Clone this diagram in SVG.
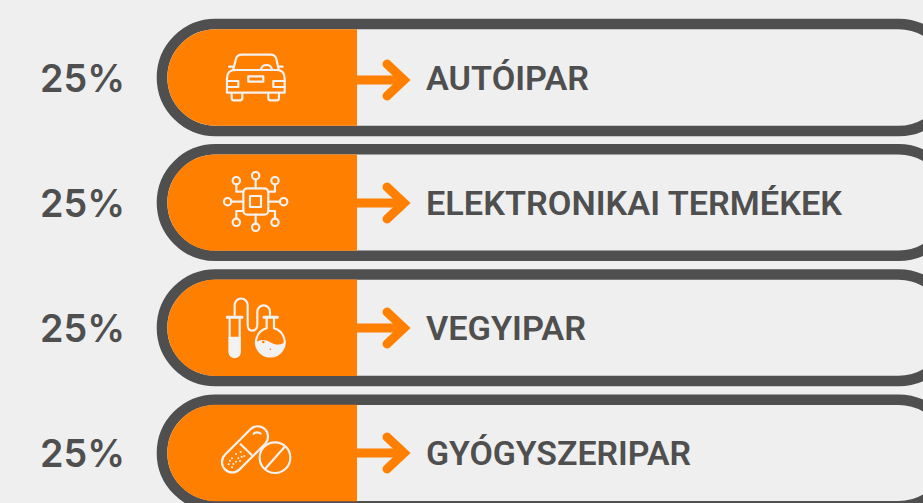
<svg xmlns="http://www.w3.org/2000/svg" width="923" height="503" viewBox="0 0 923 503">
<style>
.pct{font-family:Inter,Roboto,sans-serif;font-size:38.500px;font-weight:600;fill:#4f4f4f}
.lbl{font-family:Roboto,"Noto Sans",sans-serif;font-size:33.500px;font-weight:600;fill:#4f4f4f}
.band{fill:#efefef;stroke:#4f4f4f;stroke-width:10.600}
.or{fill:#ff7f00}
.ic{fill:none;stroke:#f2f2f2;stroke-width:6.500;stroke-linecap:round;stroke-linejoin:round}
.fl{fill:#f2f2f2}
.ar{fill:none;stroke:#ff7f00;stroke-width:9;stroke-linejoin:miter;stroke-linecap:round}
</style>
<defs>
<g id="arrow"><path d="M357 0H403" fill="none" stroke="#ff7f00" stroke-width="9"/><path class="ar" d="M387 -16L404 0L387 16"/></g>
<path id="cap" class="or" d="M357 0H215.500A48.200 48.200 0 0 0 215.500 96.400H357Z"/>
</defs>
<rect width="923" height="503" fill="#efefef"/>
<g id="row1">
<rect class="band" x="162" y="24" width="790" height="107" rx="53.500"/>
<use href="#cap" y="29.300"/>
<g transform="translate(150,10) scale(.3333)" class="ic">
<path d="M250 178L258 146Q262 134 275 134H362Q375 134 379 146L386 178"/>
<path d="M237 170H250M386 170H398"/>
<path d="M231 248V205Q231 180 256 180H380Q404 180 404 205V248Z"/>
<path d="M231 213H265V231H231M404 213H370V231H404"/>
<rect x="295" y="199" width="45" height="16"/>
<path d="M245 250V263Q245 271 252 271H270Q277 271 277 263V250M355 250V263Q355 271 362 271H380Q387 271 387 263V250"/>
<path d="M333 178A17 17 0 0 1 366 178"/>
</g>
<use href="#arrow" y="80"/>
<text class="pct" x="40" y="92" textLength="85" lengthAdjust="spacingAndGlyphs">25%</text>
<text class="lbl" x="426" y="90" textLength="163" lengthAdjust="spacingAndGlyphs">AUTÓIPAR</text>
</g>
<g id="row2">
<rect class="band" x="162" y="149.300" width="790" height="106.500" rx="53.500"/>
<use href="#cap" y="154.400"/>
<g transform="translate(150,140) scale(.3333)" class="ic">
<rect x="280" y="145" width="75" height="79" rx="12"/>
<rect x="300" y="168" width="33" height="33"/>
<circle cx="259" cy="122" r="11"/><circle cx="317" cy="107" r="11"/><circle cx="375" cy="122" r="11"/>
<circle cx="233" cy="185" r="11"/><circle cx="401" cy="185" r="11"/>
<circle cx="259" cy="247" r="11"/><circle cx="317" cy="262" r="11"/><circle cx="375" cy="247" r="11"/>
<path d="M317 118V145M259 133V155H280M375 133V155H355M244 185H280M355 185H390M259 236V213H280M375 236V213H355M317 224V251"/>
</g>
<use href="#arrow" y="203"/>
<text class="pct" x="40" y="217" textLength="85" lengthAdjust="spacingAndGlyphs">25%</text>
<text class="lbl" x="426" y="215" textLength="416" lengthAdjust="spacingAndGlyphs">ELEKTRONIKAI TERMÉKEK</text>
</g>
<g id="row3">
<rect class="band" x="162" y="274.500" width="790" height="106.500" rx="53.500"/>
<use href="#cap" y="279.600"/>
<g transform="translate(150,265) scale(.3333)">
<g class="ic">
<path d="M232 157H276M342 157H382" stroke-width="9"/>
<path d="M239 160V260A15 15 0 0 0 269 260V160"/>
<path d="M254 150V120A19 19 0 0 1 293 120V178Q293 197 306 197Q322 197 322 178V140A19 19 0 0 1 360 140V150"/>
<path d="M350 160V190A43 43 0 1 0 372 190V160"/>
</g>
<path class="fl" d="M236 215H272V262A18 18 0 0 1 236 262Z"/>
<path class="fl" d="M316 232Q340 218 361 232T406 232A45 43 0 0 1 316 232Z"/>
<circle cx="340" cy="231" r="4" fill="#ff7f00"/><circle cx="361" cy="253" r="2.500" fill="#ff7f00"/>
</g>
<use href="#arrow" y="328"/>
<text class="pct" x="40" y="342" textLength="85" lengthAdjust="spacingAndGlyphs">25%</text>
<text class="lbl" x="426" y="340" textLength="160" lengthAdjust="spacingAndGlyphs">VEGYIPAR</text>
</g>
<g id="row4">
<rect class="band" x="162" y="399.700" width="790" height="106.500" rx="53.500"/>
<use href="#cap" y="404.800"/>
<g transform="translate(150,390) scale(.3333)" class="ic">
<rect x="200" y="147" width="170" height="62" rx="31" transform="rotate(-45 285 178)"/>
<path d="M272 163L305 195M311 131Q322 123 332 131"/>
<circle cx="375" cy="203" r="46" fill="#ff7f00"/>
<path d="M347 235L403 172"/>
<g fill="#f2f2f2" stroke="none">
<circle cx="236" cy="223" r="3"/><circle cx="250" cy="222" r="3"/><circle cx="265" cy="205" r="3"/><circle cx="246" cy="205" r="3"/><circle cx="258" cy="192" r="3"/><circle cx="272" cy="186" r="3"/><circle cx="283" cy="198" r="3"/><circle cx="270" cy="213" r="3"/><circle cx="240" cy="212" r="3"/><circle cx="246" cy="232" r="3"/><circle cx="258" cy="215" r="3"/><circle cx="275" cy="200" r="3"/>
</g>
</g>
<use href="#arrow" y="453"/>
<text class="pct" x="40" y="467" textLength="85" lengthAdjust="spacingAndGlyphs">25%</text>
<text class="lbl" x="426" y="465" textLength="265" lengthAdjust="spacingAndGlyphs">GYÓGYSZERIPAR</text>
</g>
</svg>
